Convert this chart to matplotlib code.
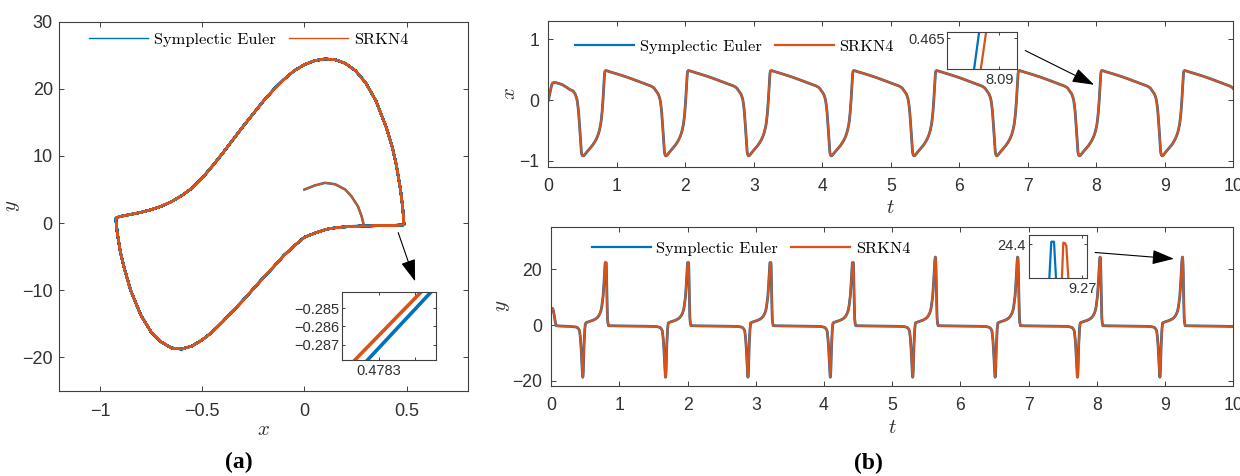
import numpy as np
import matplotlib
matplotlib.use("Agg")
import matplotlib.pyplot as plt
from matplotlib.patches import FancyArrowPatch

plt.rcParams['font.family'] = ['Liberation Sans', 'DejaVu Sans']
plt.rcParams['mathtext.fontset'] = 'cm'

# ---------------- data ----------------
# transient part (t, x, y) before the trajectory settles on the cycle
trans_t = [0.000, 0.009, 0.017, 0.026, 0.035, 0.043, 0.052, 0.062, 0.075, 0.12, 0.20, 0.266,
           0.31, 0.360, 0.378, 0.390, 0.406, 0.418, 0.4245, 0.4305, 0.4355, 0.440, 0.4435,
           0.447, 0.450, 0.453, 0.456, 0.459, 0.4618, 0.4645, 0.467, 0.470, 0.473, 0.476,
           0.480, 0.484, 0.489, 0.495, 0.502]
trans_x = [0.000, 0.05, 0.10, 0.15, 0.20, 0.23, 0.262, 0.28, 0.290, 0.285, 0.255, 0.21,
           0.175, 0.15, 0.12, 0.10, 0.05, 0.00, -0.05, -0.10, -0.15, -0.20, -0.25,
           -0.30, -0.35, -0.40, -0.45, -0.50, -0.55, -0.60, -0.65, -0.70, -0.75, -0.80,
           -0.85, -0.88, -0.90, -0.915, -0.921]
trans_y = [5.0, 5.6, 6.0, 5.8, 5.0, 4.0, 2.5, 1.0, -0.25, -0.35, -0.42, -0.5,
           -0.6, -0.7, -0.85, -1.0, -1.5, -2.1, -3.4, -4.8, -6.5, -8.1, -9.8,
           -11.5, -13.1, -14.7, -16.2, -17.4, -18.3, -18.75, -18.6, -17.7, -16.2, -13.7,
           -10.0, -6.8, -4.3, -1.5, 0.25]

# one period of the limit cycle, time measured from the x-minimum corner
cyc_tau = [0.000, 0.008, 0.020, 0.055, 0.093, 0.130, 0.160, 0.185, 0.205, 0.221,
           0.233, 0.243, 0.252, 0.258, 0.263, 0.268, 0.272, 0.2755, 0.279, 0.282,
           0.285, 0.2875, 0.290, 0.2925, 0.295, 0.2975, 0.300, 0.3025, 0.3055, 0.3078,
           0.3098, 0.3128, 0.316, 0.322, 0.331,
           0.40, 0.50, 0.60, 0.689, 0.80, 0.90, 0.989, 1.03, 1.062, 1.080, 1.092, 1.108,
           1.120, 1.1265, 1.1325, 1.1375, 1.142, 1.1455, 1.149, 1.152, 1.155, 1.158,
           1.161, 1.1638, 1.1665, 1.169, 1.172, 1.175, 1.178, 1.182, 1.186, 1.191,
           1.197, 1.204]
cyc_x = [-0.921, -0.915, -0.90, -0.85, -0.80, -0.75, -0.70, -0.65, -0.60, -0.55,
         -0.50, -0.45, -0.40, -0.35, -0.30, -0.25, -0.20, -0.15, -0.10, -0.05,
         0.00, 0.05, 0.10, 0.15, 0.20, 0.25, 0.30, 0.35, 0.40, 0.43,
         0.45, 0.47, 0.48, 0.485, 0.487,
         0.462, 0.428, 0.392, 0.357, 0.31, 0.268, 0.23, 0.20, 0.15, 0.12, 0.10, 0.05,
         0.00, -0.05, -0.10, -0.15, -0.20, -0.25, -0.30, -0.35, -0.40, -0.45,
         -0.50, -0.55, -0.60, -0.65, -0.70, -0.75, -0.80, -0.85, -0.88, -0.90,
         -0.915, -0.921]
cyc_y = [0.75, 0.85, 1.0, 1.3, 1.6, 2.0, 2.5, 3.2, 4.1, 5.2,
         6.7, 8.5, 10.4, 12.4, 14.4, 16.3, 18.2, 19.9, 21.4, 22.7,
         23.6, 24.2, 24.45, 24.35, 23.8, 22.7, 20.9, 18.2, 14.3, 11.3,
         8.6, 5.0, 2.5, 0.8, -0.25,
         -0.30, -0.33, -0.36, -0.38, -0.42, -0.45, -0.52, -0.55, -0.7, -0.85, -1.0, -1.5,
         -2.1, -3.4, -4.8, -6.5, -8.1, -9.8, -11.5, -13.1, -14.7, -16.2,
         -17.4, -18.3, -18.75, -18.6, -17.7, -16.2, -13.7, -10.0, -6.8, -4.3,
         -1.5, 0.25]

# start times of each period (x minima) and the sampled height of each y spike
cycle_start = [0.511, 1.719, 2.926, 4.134, 5.342, 6.549, 7.757, 8.964]
spike_peak = [22.4, 22.4, 22.4, 22.4, 24.4, 24.4, 24.4, 24.4]

# zoomed insets
insA_euler_x = [0.47829587, 0.47831562]
insA_euler_y = [-0.2880, -0.2839]
insA_srkn_x = [0.47829228, 0.47831288]
insA_srkn_y = [-0.2880, -0.2839]

insX_euler_t = [8.0893612, 8.0894998]
insX_euler_x = [0.46335, 0.4654]
insX_srkn_t = [8.0895278, 8.0896752]
insX_srkn_x = [0.46335, 0.4654]

insY_euler_t = [9.268335, 9.26845, 9.268585, 9.2687]
insY_euler_y = [24.2, 24.4115, 24.4115, 24.2]
insY_srkn_t = [9.26897, 9.26905, 9.269135, 9.2692, 9.26932]
insY_srkn_y = [24.2, 24.4065, 24.404, 24.392, 24.2]

# ---------------- assemble trajectories ----------------
tau = np.array(cyc_tau)
cx = np.array(cyc_x)
cy = np.array(cyc_y)
T = [np.array(trans_t)]
X = [np.array(trans_x)]
Yts = [np.array(trans_y)]
Yph = [np.array(trans_y)]
for k, t0 in enumerate(cycle_start):
    T.append(t0 + tau)
    X.append(cx)
    Yts.append(np.minimum(cy, spike_peak[k]))
    Yph.append(cy)
T = np.concatenate(T)
X = np.concatenate(X)
Yts = np.concatenate(Yts)
Yph = np.concatenate(Yph)

BLUE = '#0072BD'
ORANGE = '#D95319'
GRAY = '#404040'
TXT = '#303030'

fig = plt.figure(figsize=(12.4, 4.76), dpi=100)

def style(ax, fs, xpad=3.5, ypad=3.5):
    for s in ax.spines.values():
        s.set_color(GRAY)
        s.set_linewidth(0.8)
    ax.tick_params(direction='in', top=True, right=True, length=3.5, width=0.7,
                   color=GRAY, labelcolor=TXT, labelsize=fs)
    ax.tick_params(axis='x', pad=xpad)
    ax.tick_params(axis='y', pad=ypad)

# ---------------- (a) phase portrait ----------------
axA = fig.add_axes([0.0476, 0.1786, 0.3298, 0.7758])
axA.plot(X, Yph, color=BLUE, lw=1.8)
axA.plot(X, Yph, color=ORANGE, lw=1.35)
axA.set_xlim(-1.2, 0.8)
axA.set_ylim(-25, 30)
axA.set_xticks([-1, -0.5, 0, 0.5])
axA.set_xticklabels(['\u22121', '\u22120.5', '0', '0.5'])
axA.set_yticks([-20, -10, 0, 10, 20, 30])
axA.set_yticklabels(['\u221220', '\u221210', '0', '10', '20', '30'])
style(axA, 13, xpad=9, ypad=4.5)
axA.set_xlabel('$x$', fontsize=15, color=TXT, labelpad=0)
axA.set_ylabel('$y$', fontsize=15, color=TXT, labelpad=0)
hA1, = axA.plot([], [], color=BLUE, lw=1.0, label='Symplectic Euler')
hA2, = axA.plot([], [], color=ORANGE, lw=1.0, label='SRKN4')
axA.legend(handles=[hA1, hA2], ncol=2, frameon=False, loc='center left',
           bbox_to_anchor=(0.072, 0.916), bbox_transform=fig.transFigure,
           prop={'family': 'cmr10', 'size': 11.8}, handlelength=3.6,
           handletextpad=0.35, columnspacing=0.8, borderpad=0, borderaxespad=0)

insA = fig.add_axes([0.2760, 0.2437, 0.0753, 0.1435])
insA.plot(insA_euler_x, insA_euler_y, color=BLUE, lw=2.6)
insA.plot(insA_srkn_x, insA_srkn_y, color=ORANGE, lw=2.6)
insA.set_xlim(0.47828964, 0.4783158)
insA.set_ylim(-0.28782, -0.28411)
insA.set_xticks([0.4783, 0.47831])
insA.set_xticklabels(['0.4783', ''])
insA.set_yticks([-0.287, -0.286, -0.285])
insA.set_yticklabels(['\u22120.287', '\u22120.286', '\u22120.285'])
style(insA, 10.5, xpad=3, ypad=2)
insA.tick_params(length=2.5)

# ---------------- (b) x(t) ----------------
axX = fig.add_axes([0.4423, 0.6498, 0.5523, 0.3067])
axX.plot(T, X, color=BLUE, lw=2.0)
axX.plot(T, X, color=ORANGE, lw=1.5)
axX.set_xlim(0, 10)
axX.set_ylim(-1.1, 1.31)
axX.set_xticks(range(0, 11))
axX.set_yticks([-1, 0, 1])
axX.set_yticklabels(['\u22121', '0', '1'])
style(axX, 12.7, xpad=8, ypad=6.5)
axX.set_xlabel('$t$', fontsize=15, color=TXT, labelpad=2)
axX.set_ylabel('$x$', fontsize=15, color=TXT, labelpad=0)
hX1, = axX.plot([], [], color=BLUE, lw=1.6, label='Symplectic Euler')
hX2, = axX.plot([], [], color=ORANGE, lw=1.6, label='SRKN4')
axX.legend(handles=[hX1, hX2], ncol=2, frameon=False, loc='center left',
           bbox_to_anchor=(0.4637, 0.902), bbox_transform=fig.transFigure,
           prop={'family': 'cmr10', 'size': 11.8}, handlelength=3.6,
           handletextpad=0.35, columnspacing=0.8, borderpad=0, borderaxespad=0)

insX = fig.add_axes([0.7640, 0.8544, 0.05645, 0.0777])
insX.plot(insX_euler_t, insX_euler_x, color=BLUE, lw=1.6)
insX.plot(insX_srkn_t, insX_srkn_x, color=ORANGE, lw=1.6)
insX.set_xlim(8.0887, 8.09045)
insX.set_ylim(0.46345, 0.4653)
insX.set_xticks([8.09])
insX.set_xticklabels(['8.09'])
insX.set_yticks([0.465])
insX.set_yticklabels(['0.465'])
style(insX, 10.5, xpad=3, ypad=2)
insX.tick_params(length=2.5)

# ---------------- (b) y(t) ----------------
axY = fig.add_axes([0.4444, 0.1897, 0.5502, 0.3340])
axY.plot(T, Yts, color=BLUE, lw=2.0)
axY.plot(T, Yts, color=ORANGE, lw=1.5)
axY.set_xlim(0, 10)
axY.set_ylim(-21.8, 35.3)
axY.set_xticks(range(0, 11))
axY.set_yticks([-20, 0, 20])
axY.set_yticklabels(['\u221220', '0', '20'])
style(axY, 12.7, xpad=8, ypad=6.5)
axY.set_xlabel('$t$', fontsize=15, color=TXT, labelpad=3)
axY.set_ylabel('$y$', fontsize=15, color=TXT, labelpad=0)
hY1, = axY.plot([], [], color=BLUE, lw=1.6, label='Symplectic Euler')
hY2, = axY.plot([], [], color=ORANGE, lw=1.6, label='SRKN4')
axY.legend(handles=[hY1, hY2], ncol=2, frameon=False, loc='center left',
           bbox_to_anchor=(0.4772, 0.4783), bbox_transform=fig.transFigure,
           prop={'family': 'cmr10', 'size': 11.8}, handlelength=3.6,
           handletextpad=0.35, columnspacing=0.8, borderpad=0, borderaxespad=0)

insY = fig.add_axes([0.8296, 0.4166, 0.04677, 0.0897])
insY.plot(insY_euler_t, insY_euler_y, color=BLUE, lw=1.6)
insY.plot(insY_srkn_t, insY_srkn_y, color=ORANGE, lw=1.6)
insY.set_xlim(9.26732, 9.27022)
insY.set_ylim(24.2315, 24.445)
insY.set_xticks([9.27])
insY.set_xticklabels(['9.27'])
insY.set_yticks([24.4])
insY.set_yticklabels(['24.4'])
style(insY, 10.5, xpad=3, ypad=2)
insY.tick_params(length=2.5)

# ---------------- arrows ----------------
for (p0, p1) in [((0.3204, 0.5168), (0.3355, 0.4034)),
                 ((0.8248, 0.8964), (0.8843, 0.8193)),
                 ((0.8809, 0.4700), (0.9490, 0.4559))]:
    arr = FancyArrowPatch(p0, p1, transform=fig.transFigure,
                          arrowstyle='-|>,head_length=0.9,head_width=0.3',
                          mutation_scale=15, color='black', lw=0.8)
    fig.patches.append(arr)

# panel labels
fig.text(0.1927, 0.0294, '(a)', ha='center', va='center', fontsize=17,
         fontweight='bold', family='Liberation Serif')
fig.text(0.700, 0.0273, '(b)', ha='center', va='center', fontsize=17,
         fontweight='bold', family='Liberation Serif')

fig.savefig('out.png', dpi=100)
